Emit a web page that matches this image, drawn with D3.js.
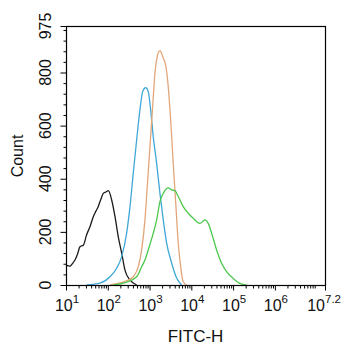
<!DOCTYPE html>
<html>
<head>
<meta charset="utf-8">
<script src="https://cdn.jsdelivr.net/npm/d3@7"></script>
<style>
  html, body { margin: 0; padding: 0; background: #fff; }
  svg { display: block; font-family: "Liberation Sans", Arial, sans-serif; }
</style>
</head>
<body>
<svg id="chart" width="342" height="350"></svg>
<script>
// FITC-H histogram overlay: fluorescence intensity (log) vs event count

// Isotype / unstained control (black)
const blackFitc  = [10, 11.5, 12.5, 14.5, 16.4, 19, 21.6, 26, 31, 38, 45, 52, 59, 68, 78, 90, 103, 124, 149, 178, 215, 258, 340, 491];
const blackCount = [75, 72, 71, 82, 94, 118, 144, 150, 188, 222, 257, 278, 295, 322, 345, 350, 355, 320, 257, 182, 120, 56, 19, 0];

// Sample 1 (blue)
const blueFitc  = [31, 65, 113, 163, 215, 283, 340, 407, 491, 589, 684, 807, 931, 1062, 1227, 1479, 1775, 2128, 2565, 3380, 4450, 5860];
const blueCount = [0, 7, 31, 63, 107, 195, 295, 420, 546, 659, 728, 743, 728, 659, 558, 458, 345, 245, 158, 83, 26, 0];

// Sample 2 (orange)
const orangeFitc  = [113, 196, 283, 407, 537, 647, 776, 881, 1023, 1186, 1346, 1528, 1775, 2056, 2466, 2799, 3198, 3690, 4285, 4864, 5550, 6400, 7725];
const orangeCount = [0, 8, 16, 31, 69, 132, 245, 370, 521, 671, 797, 860, 882, 860, 822, 747, 621, 458, 295, 157, 69, 12, 0];

// Sample 3 (green)
const greenFitc  = [136, 283, 491, 647, 776, 931, 1227, 1479, 1775, 2128, 2799, 3380, 4055, 4864, 6400, 8430, 11100, 16070, 21150, 25350, 30600, 40300, 53100, 69800, 100500, 145500, 210400];
const greenCount = [0, 11, 31, 69, 94, 132, 195, 245, 314, 345, 366, 358, 355, 333, 295, 270, 251, 232, 245, 232, 195, 132, 82, 50, 25, 6, 0];

// Axis ticks
const xDecades = [1, 2, 3, 4, 5, 6, 7.2];          // exponents of the labelled ticks
const yMajorTicks = [0, 200, 400, 600, 800, 975];
const yMinorStep = 40;

const xLabel = "FITC-H";
const yLabel = "Count";

const series = [
  { fitc: blackFitc,  count: blackCount,  color: "#1c1c1c" },
  { fitc: blueFitc,   count: blueCount,   color: "#3fa8d8" },
  { fitc: orangeFitc, count: orangeCount, color: "#e2a679" },
  { fitc: greenFitc,  count: greenCount,  color: "#4cc84c" }
];

const svg = d3.select("#chart");
const margin = { left: 66, top: 26, right: 17, bottom: 65 };
const W = 342, H = 350;
const x0 = margin.left, x1 = W - margin.right;
const y0 = H - margin.bottom, y1 = margin.top;

const x = d3.scaleLog().domain([Math.pow(10, 1), Math.pow(10, 7.2)]).range([x0, x1]);
const y = d3.scaleLinear().domain([0, 975]).range([y0, y1]);

// Histogram traces
const line = d3.line().x(d => x(d[0])).y(d => y(d[1])).curve(d3.curveMonotoneX);
svg.append("g")
  .selectAll("path")
  .data(series)
  .join("path")
  .attr("d", s => line(s.fitc.map((v, i) => [v, s.count[i]])))
  .attr("fill", "none")
  .attr("stroke", s => s.color)
  .attr("stroke-width", 1.3)
  .attr("stroke-linejoin", "round");

// Frame
svg.append("rect")
  .attr("x", x0 + 0.5).attr("y", y1 + 0.5)
  .attr("width", x1 - x0).attr("height", y0 - y1)
  .attr("fill", "none").attr("stroke", "#000").attr("stroke-width", 1.2);

// Y axis ticks
const yMinor = d3.range(0, 975, yMinorStep).filter(v => v % 200 !== 0);
const yAxisMajor = d3.axisLeft(y).tickValues(yMajorTicks).tickSize(6).tickFormat("");
const yAxisMinor = d3.axisLeft(y).tickValues(yMinor).tickSize(3).tickFormat("");
[yAxisMajor, yAxisMinor].forEach(ax => {
  const g = svg.append("g").attr("transform", `translate(${x0 + 0.5},0)`).call(ax);
  g.select(".domain").remove();
  g.selectAll("line").attr("stroke", "#000");
});

// Y tick labels, rotated
svg.append("g").selectAll("text")
  .data(yMajorTicks)
  .join("text")
  .attr("transform", d => `translate(51,${y(d)}) rotate(-90)`)
  .attr("text-anchor", "middle")
  .attr("font-size", 16)
  .attr("fill", "#111")
  .text(d => d);

// X axis ticks (log decades with minor ticks)
const xMajorVals = xDecades.map(e => Math.pow(10, e));
const xMinorVals = [];
for (let e = 1; e < 7.2; e++) {
  for (let m = 2; m <= 9; m++) {
    const v = m * Math.pow(10, e);
    if (v < Math.pow(10, 7.2)) xMinorVals.push(v);
  }
}
const xAxisMajor = d3.axisBottom(x).tickValues(xMajorVals).tickSize(5).tickFormat("");
const xAxisMinor = d3.axisBottom(x).tickValues(xMinorVals).tickSize(3).tickFormat("");
[xAxisMajor, xAxisMinor].forEach(ax => {
  const g = svg.append("g").attr("transform", `translate(0,${y0 + 0.5})`).call(ax);
  g.select(".domain").remove();
  g.selectAll("line").attr("stroke", "#000");
});

// X tick labels as 10 with superscript exponent
const xl = svg.append("g").selectAll("text")
  .data(xDecades)
  .join("text")
  .attr("x", (d, i) => i === xDecades.length - 1 ? W - 1 : x(Math.pow(10, d)) + 1)
  .attr("y", 311)
  .attr("text-anchor", (d, i) => i === xDecades.length - 1 ? "end" : "middle")
  .attr("font-size", 16)
  .attr("fill", "#111");
xl.append("tspan").text("10");
xl.append("tspan").attr("font-size", 11.5).attr("dy", -8).text(d => d);

// Axis titles
svg.append("text")
  .attr("x", (x0 + x1) / 2).attr("y", 342)
  .attr("text-anchor", "middle").attr("font-size", 17).attr("fill", "#111")
  .text(xLabel);

svg.append("text")
  .attr("transform", `translate(23,156) rotate(-90)`)
  .attr("text-anchor", "middle").attr("font-size", 16).attr("fill", "#111")
  .text(yLabel);
</script>
</body>
</html>
